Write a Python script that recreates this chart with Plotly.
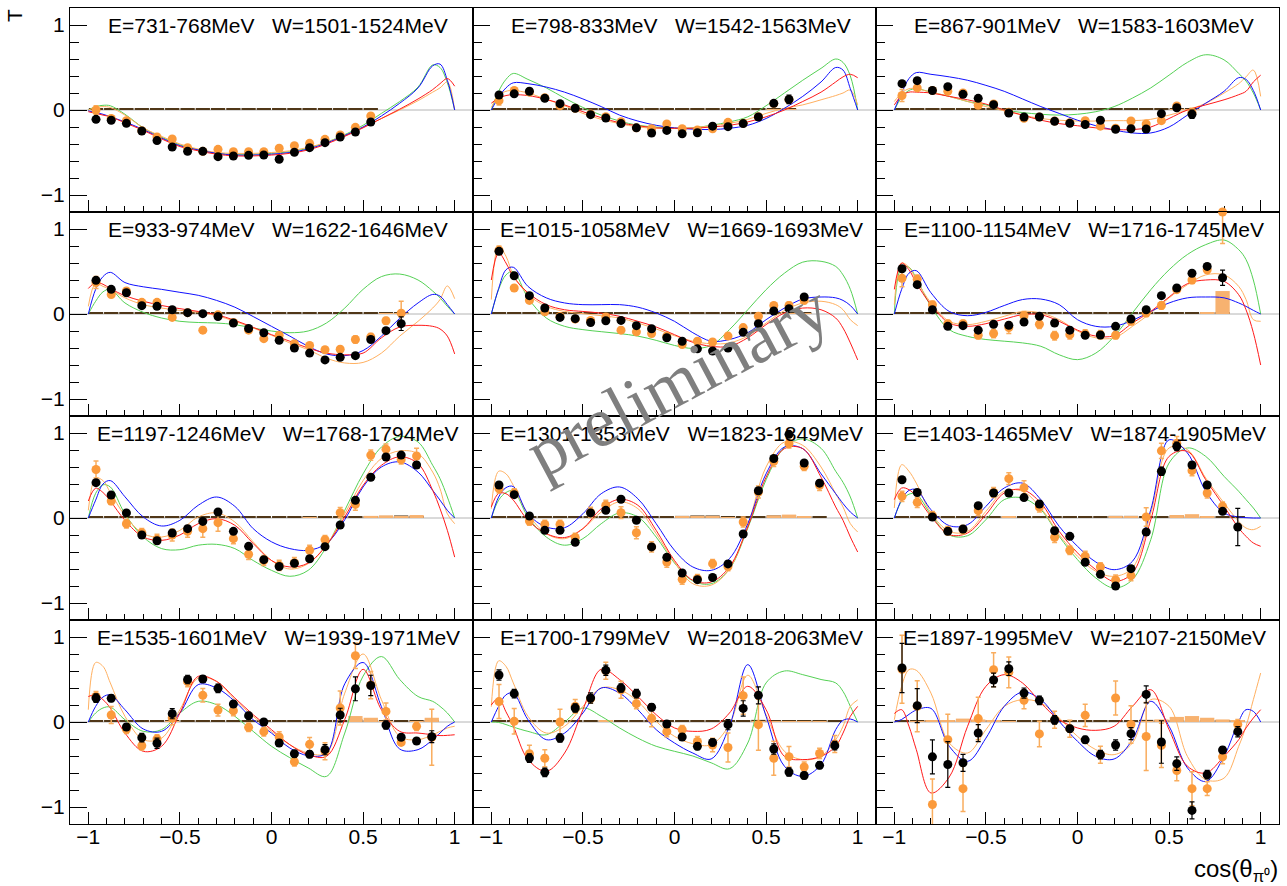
import plotly.graph_objects as go
from plotly.subplots import make_subplots

# ---------------- data ----------------
COS_BINS = [-0.958, -0.875, -0.792, -0.708, -0.625, -0.542, -0.458, -0.375, -0.292, -0.208, -0.125, -0.042,
            0.042, 0.125, 0.208, 0.292, 0.375, 0.458, 0.542, 0.625, 0.708, 0.792, 0.875, 0.958]
CURVE_X = [-1, -0.96, -0.92, -0.88, -0.8, -0.7, -0.6, -0.5, -0.4, -0.3, -0.2, -0.1, 0,
           0.1, 0.2, 0.3, 0.4, 0.5, 0.6, 0.7, 0.8, 0.88, 0.92, 0.96, 1]

E_RANGES = ["731-768", "798-833", "867-901", "933-974", "1015-1058", "1100-1154",
            "1197-1246", "1301-1353", "1403-1465", "1535-1601", "1700-1799", "1897-1995"]
W_RANGES = ["1501-1524", "1542-1563", "1583-1603", "1622-1646", "1669-1693", "1716-1745",
            "1768-1794", "1823-1849", "1874-1905", "1939-1971", "2018-2063", "2107-2150"]

BLACK_T = [
    [-0.11, -0.12, -0.157, -0.247, -0.36, -0.435, -0.486, -0.486, -0.549, -0.541, -0.533, -0.53, -0.58, -0.498, -0.443, -0.384, -0.318, -0.259, -0.141],
    [0.176, 0.19, 0.22, 0.137, 0.075, 0.02, -0.055, -0.094, -0.16, -0.21, -0.27, -0.24, -0.28, -0.267, -0.19, -0.196, -0.16, -0.082, 0.078, 0.125],
    [0.31, 0.345, 0.23, 0.275, 0.184, 0.137, 0.063, -0.035, -0.082, -0.082, -0.133, -0.157, -0.17, -0.12, -0.227, -0.22, -0.224, -0.043, 0.027, -0.05],
    [0.396, 0.29, 0.25, 0.098, 0.09, 0.05, 0.016, 0.004, -0.03, -0.106, -0.17, -0.22, -0.31, -0.4, -0.46, -0.54, -0.51, -0.49, -0.3, -0.196, -0.114],
    [0.737, 0.45, 0.216, 0.07, -0.04, -0.055, -0.1, -0.08, -0.075, -0.137, -0.173, -0.28, -0.32, -0.41, -0.435, -0.4, -0.216, -0.114, 0.035, 0.063, 0.2],
    [0.533, 0.345, 0.05, -0.145, -0.137, -0.19, -0.12, -0.133, -0.094, -0.027, -0.106, -0.19, -0.25, -0.247, -0.145, -0.059, 0.05, 0.216, 0.306, 0.48, 0.56, 0.427],
    [0.416, 0.27, 0.06, -0.2, -0.267, -0.176, -0.125, -0.04, 0.07, -0.157, -0.333, -0.49, -0.57, -0.533, -0.48, -0.337, -0.082, 0.208, 0.48, 0.718, 0.74, 0.624],
    [0.388, 0.275, 0.024, -0.145, -0.145, -0.286, 0.06, 0.09, 0.22, -0.027, -0.34, -0.463, -0.647, -0.725, -0.7, -0.54, -0.188, 0.32, 0.7, 0.984, 0.647, 0.41],
    [0.45, 0.3, 0.012, -0.157, -0.13, 0.145, 0.294, 0.294, 0.24, 0.165, -0.15, -0.216, -0.52, -0.663, -0.8, -0.596, -0.165, 0.55, 0.843, 0.624, 0.388, 0.078, -0.106],
    [0.282, 0.278, -0.059, -0.184, -0.25, 0.098, 0.5, 0.506, 0.396, 0.212, 0.075, 0.0, -0.247, -0.373, -0.38, -0.325, 0.082, 0.39, 0.43, -0.035, -0.18, -0.224, -0.173],
    [0.553, 0.333, -0.424, -0.592, -0.188, 0.165, 0.282, 0.608, 0.4, 0.333, 0.173, -0.024, -0.176, -0.286, -0.24, -0.031, 0.16, 0.314, -0.318, -0.588, -0.63, -0.51, -0.278],
    [0.635, 0.192, -0.41, -0.5, -0.48, -0.13, 0.494, 0.627, 0.34, 0.255, 0.024, -0.078, -0.21, -0.384, -0.27, -0.137, 0.325, -0.235, -0.49, -1.04, -0.62, -0.33, -0.114],
]
BLACK_ERR = [
    [0.02, 0.02, 0.02, 0.02, 0.02, 0.02, 0.02, 0.02, 0.02, 0.02, 0.02, 0.02, 0.02, 0.02, 0.02, 0.02, 0.02, 0.02, 0.02],
    [0.02, 0.02, 0.02, 0.02, 0.02, 0.02, 0.02, 0.02, 0.02, 0.02, 0.02, 0.02, 0.02, 0.02, 0.02, 0.02, 0.02, 0.02, 0.03, 0.05],
    [0.03, 0.03, 0.02, 0.02, 0.02, 0.02, 0.02, 0.02, 0.02, 0.02, 0.02, 0.02, 0.02, 0.02, 0.02, 0.02, 0.02, 0.03, 0.03, 0.05],
    [0.03, 0.02, 0.02, 0.02, 0.02, 0.02, 0.02, 0.02, 0.02, 0.02, 0.02, 0.02, 0.02, 0.02, 0.02, 0.02, 0.02, 0.02, 0.03, 0.03, 0.08],
    [0.02, 0.02, 0.02, 0.02, 0.02, 0.02, 0.02, 0.02, 0.02, 0.02, 0.02, 0.02, 0.02, 0.02, 0.02, 0.02, 0.02, 0.02, 0.02, 0.03, 0.03],
    [0.03, 0.03, 0.02, 0.02, 0.02, 0.02, 0.02, 0.02, 0.02, 0.02, 0.02, 0.02, 0.02, 0.02, 0.02, 0.02, 0.02, 0.02, 0.03, 0.03, 0.03, 0.09],
    [0.03, 0.03, 0.03, 0.03, 0.03, 0.03, 0.03, 0.03, 0.03, 0.03, 0.03, 0.03, 0.03, 0.03, 0.03, 0.03, 0.03, 0.03, 0.03, 0.03, 0.03, 0.04],
    [0.03, 0.03, 0.03, 0.03, 0.03, 0.03, 0.03, 0.03, 0.03, 0.03, 0.03, 0.03, 0.03, 0.03, 0.03, 0.03, 0.03, 0.03, 0.03, 0.03, 0.03, 0.03],
    [0.03, 0.03, 0.03, 0.03, 0.03, 0.03, 0.03, 0.03, 0.03, 0.03, 0.03, 0.03, 0.03, 0.03, 0.03, 0.03, 0.03, 0.05, 0.05, 0.03, 0.03, 0.03, 0.22],
    [0.05, 0.04, 0.04, 0.05, 0.06, 0.06, 0.05, 0.04, 0.05, 0.04, 0.04, 0.03, 0.04, 0.04, 0.04, 0.06, 0.08, 0.14, 0.12, 0.05, 0.03, 0.03, 0.07],
    [0.06, 0.05, 0.05, 0.05, 0.05, 0.05, 0.06, 0.06, 0.05, 0.05, 0.04, 0.04, 0.04, 0.04, 0.04, 0.06, 0.09, 0.1, 0.06, 0.05, 0.04, 0.04, 0.05],
    [0.29, 0.2, 0.2, 0.27, 0.1, 0.1, 0.08, 0.08, 0.06, 0.05, 0.05, 0.04, 0.04, 0.05, 0.06, 0.07, 0.1, 0.25, 0.08, 0.1, 0.05, 0.04, 0.06],
]
ORANGE_T = [
    [0.0, -0.10, -0.125, -0.243, -0.318, -0.341, -0.443, -0.486, -0.463, -0.49, -0.49, -0.49, -0.45, -0.42, -0.392, -0.345, -0.294, -0.204, -0.07],
    [0.11, 0.23, 0.21, 0.145, 0.05, 0.02, -0.047, -0.08, -0.137, -0.21, -0.22, -0.165, -0.22, -0.235, -0.22, -0.145, -0.157, -0.078, 0.075, 0.12],
    [0.17, 0.26, 0.23, 0.22, 0.2, 0.055, 0.07, -0.027, -0.098, -0.082, -0.13, -0.15, -0.125, -0.19, -0.215, -0.13, -0.165, -0.125, 0.047, -0.03],
    [0.37, 0.23, 0.27, 0.137, 0.137, -0.04, 0.016, -0.19, -0.01, -0.1, -0.19, -0.29, -0.25, -0.35, -0.37, -0.42, -0.415, -0.3, -0.27, -0.08, 0.01],
    [0.75, 0.306, 0.16, 0.027, -0.03, -0.06, -0.075, -0.035, -0.19, -0.21, -0.23, -0.26, -0.36, -0.32, -0.33, -0.26, -0.16, -0.027, 0.1, 0.1, 0.16],
    [0.42, 0.41, 0.11, -0.114, -0.114, -0.25, -0.23, -0.16, -0.02, -0.12, -0.255, -0.243, -0.235, -0.243, -0.25, -0.086, 0.012, 0.1, 0.286, 0.4, 0.52, 1.2],
    [0.57, 0.2, -0.067, -0.173, -0.25, -0.2, -0.157, -0.125, -0.055, -0.243, -0.427, -0.5, -0.557, -0.525, -0.38, -0.255, 0.063, 0.16, 0.74, 0.81, 0.686, 0.73],
    [0.345, 0.294, -0.035, -0.075, -0.075, -0.23, 0.067, 0.15, 0.063, -0.173, -0.34, -0.518, -0.72, -0.714, -0.537, -0.57, -0.047, 0.306, 0.667, 0.875, 0.608, 0.384],
    [0.255, 0.184, 0.027, -0.15, -0.137, 0.086, 0.3, 0.463, 0.357, 0.13, -0.227, -0.38, -0.45, -0.576, -0.73, -0.678, 0.012, 0.79, 0.88, 0.557, 0.294, 0.137],
    [0.3, 0.082, -0.086, -0.28, -0.2, 0.047, 0.475, 0.314, 0.14, 0.133, -0.063, -0.114, -0.176, -0.467, -0.263, -0.345, 0.165, 0.78, 0.435, 0.125, -0.24, -0.051, -0.18],
    [0.24, 0.008, -0.373, -0.427, 0.0, 0.184, 0.275, 0.604, 0.38, 0.216, 0.043, -0.114, -0.09, -0.23, -0.27, -0.3, 0.31, -0.031, -0.427, -0.408, -0.53, -0.37, -0.26],
    [0.62, 0.184, -0.97, -0.208, -0.784, 0.04, 0.616, 0.584, 0.255, -0.14, 0.027, -0.078, 0.078, -0.384, 0.282, -0.03, -0.17, -0.275, -0.57, -0.784, -0.784, -0.41, -0.03],
]
ORANGE_ERR = [
    [0.05, 0.02, 0.02, 0.02, 0.02, 0.02, 0.02, 0.02, 0.02, 0.02, 0.02, 0.02, 0.02, 0.02, 0.02, 0.02, 0.02, 0.02, 0.03],
    [0.05, 0.03, 0.02, 0.02, 0.02, 0.02, 0.02, 0.02, 0.02, 0.02, 0.02, 0.02, 0.02, 0.02, 0.02, 0.02, 0.02, 0.02, 0.03, 0.04],
    [0.07, 0.03, 0.02, 0.02, 0.03, 0.02, 0.02, 0.02, 0.02, 0.02, 0.02, 0.02, 0.02, 0.02, 0.02, 0.02, 0.02, 0.02, 0.03, 0.05],
    [0.07, 0.03, 0.03, 0.03, 0.03, 0.03, 0.03, 0.03, 0.03, 0.03, 0.03, 0.03, 0.03, 0.03, 0.03, 0.03, 0.03, 0.04, 0.04, 0.04, 0.14],
    [0.05, 0.03, 0.03, 0.03, 0.03, 0.03, 0.03, 0.03, 0.03, 0.03, 0.03, 0.03, 0.03, 0.03, 0.03, 0.03, 0.03, 0.03, 0.03, 0.04, 0.04],
    [0.1, 0.05, 0.04, 0.04, 0.04, 0.04, 0.05, 0.07, 0.05, 0.05, 0.05, 0.05, 0.05, 0.05, 0.04, 0.04, 0.04, 0.04, 0.03, 0.04, 0.04, 0.37],
    [0.1, 0.04, 0.05, 0.05, 0.06, 0.07, 0.07, 0.1, 0.1, 0.06, 0.06, 0.06, 0.06, 0.06, 0.06, 0.05, 0.06, 0.07, 0.06, 0.06, 0.05, 0.09],
    [0.05, 0.05, 0.05, 0.05, 0.05, 0.05, 0.06, 0.06, 0.07, 0.07, 0.06, 0.06, 0.06, 0.05, 0.05, 0.05, 0.06, 0.07, 0.06, 0.05, 0.05, 0.06],
    [0.06, 0.06, 0.05, 0.05, 0.05, 0.06, 0.06, 0.07, 0.08, 0.06, 0.06, 0.05, 0.06, 0.05, 0.06, 0.06, 0.11, 0.09, 0.08, 0.06, 0.06, 0.05],
    [0.06, 0.1, 0.05, 0.05, 0.05, 0.08, 0.06, 0.08, 0.07, 0.06, 0.05, 0.05, 0.06, 0.05, 0.08, 0.1, 0.2, 0.15, 0.16, 0.1, 0.03, 0.05, 0.33],
    [0.2, 0.15, 0.1, 0.1, 0.15, 0.08, 0.05, 0.1, 0.1, 0.06, 0.1, 0.06, 0.05, 0.06, 0.08, 0.17, 0.22, 0.3, 0.2, 0.12, 0.06, 0.06, 0.1],
    [0.4, 0.3, 0.3, 0.3, 0.27, 0.25, 0.2, 0.18, 0.1, 0.15, 0.1, 0.1, 0.13, 0.1, 0.2, 0.22, 0.4, 0.26, 0.12, 0.2, 0.08, 0.08, 0.06],
]
# systematic uncertainties (bar heights from 0)
BLACK_SYS = [
    [0.02, 0.02, 0.02, 0.02, 0.02, 0.02, 0.02, 0.02, 0.02, 0.02, 0.02, 0.02, 0.02, 0.02, 0.02, 0.02, 0.02, 0.02, 0.02],
    [0.02, 0.02, 0.02, 0.02, 0.02, 0.02, 0.02, 0.02, 0.02, 0.02, 0.02, 0.02, 0.02, 0.02, 0.02, 0.02, 0.02, 0.02, 0.02, 0.02],
    [0.02, 0.02, 0.02, 0.02, 0.02, 0.02, 0.02, 0.02, 0.02, 0.02, 0.02, 0.02, 0.02, 0.02, 0.02, 0.02, 0.02, 0.02, 0.02, 0.02],
    [0.02, 0.02, 0.02, 0.02, 0.02, 0.02, 0.02, 0.02, 0.02, 0.02, 0.02, 0.02, 0.02, 0.02, 0.02, 0.02, 0.02, 0.02, 0.02, 0.02, 0.02],
    [0.02, 0.02, 0.02, 0.02, 0.02, 0.02, 0.02, 0.02, 0.02, 0.02, 0.02, 0.02, 0.02, 0.02, 0.02, 0.02, 0.02, 0.02, 0.02, 0.02, 0.02],
    [0.02, 0.02, 0.02, 0.02, 0.02, 0.02, 0.02, 0.02, 0.02, 0.02, 0.02, 0.02, 0.02, 0.02, 0.02, 0.02, 0.02, 0.02, 0.02, 0.02, 0.02, 0.02],
    [0.02, 0.02, 0.02, 0.02, 0.02, 0.02, 0.02, 0.02, 0.02, 0.02, 0.02, 0.02, 0.02, 0.02, 0.02, 0.02, 0.02, 0.02, 0.02, 0.025, 0.03, 0.02],
    [0.02, 0.02, 0.02, 0.02, 0.02, 0.02, 0.02, 0.02, 0.02, 0.02, 0.02, 0.02, 0.025, 0.03, 0.03, 0.02, 0.02, 0.02, 0.03, 0.03, 0.02, 0.02],
    [0.02, 0.02, 0.02, 0.02, 0.02, 0.02, 0.02, 0.02, 0.02, 0.02, 0.02, 0.02, 0.02, 0.02, 0.025, 0.025, 0.02, 0.02, 0.03, 0.02, 0.02, 0.02, 0.02],
    [0.02, 0.02, 0.02, 0.02, 0.02, 0.02, 0.02, 0.02, 0.02, 0.02, 0.02, 0.02, 0.02, 0.02, 0.02, 0.02, 0.02, 0.03, 0.02, 0.02, 0.02, 0.02, 0.02],
    [0.02, 0.02, 0.02, 0.02, 0.02, 0.02, 0.02, 0.02, 0.02, 0.02, 0.02, 0.02, 0.02, 0.02, 0.02, 0.02, 0.02, 0.025, 0.02, 0.02, 0.02, 0.02, 0.02],
    [0.02, 0.02, 0.02, 0.02, 0.02, 0.02, 0.02, 0.02, 0.02, 0.02, 0.02, 0.02, 0.02, 0.02, 0.02, 0.02, 0.025, 0.02, 0.02, 0.02, 0.02, 0.02, 0.02],
]
ORANGE_SYS = [
    [0, 0, 0, 0, 0, 0, 0, 0, 0, 0, 0, 0, 0, 0, 0, 0, 0, 0, 0],
    [0, 0, 0, 0, 0, 0, 0, 0, 0, 0, 0, 0, 0, 0, 0, 0, 0, 0, 0.01, 0.01],
    [0, 0, 0, 0, 0, 0, 0, 0, 0, 0, 0, 0, 0, 0, 0, 0, 0, 0, 0.01, 0.01],
    [0, 0, 0, 0, 0, 0, 0, 0, 0, 0, 0, 0, 0, 0, 0, 0, 0, 0, 0, 0.01, 0.01],
    [0, 0, 0, 0, 0, 0, 0, 0, 0, 0, 0, 0, 0, 0, 0, 0, 0, 0, 0, 0.01, 0.01],
    [0, 0, 0, 0, 0, 0, 0, 0, 0, 0, 0, 0, 0, 0, 0, 0, 0, 0, 0, 0, 0.012, 0.27],
    [0, 0, 0, 0, 0, 0, 0, 0, 0, 0, 0, 0, 0, 0, 0.01, 0, 0, 0, 0.025, 0.03, 0.02, 0.035],
    [0, 0, 0, 0, 0, 0, 0, 0, 0, 0, 0, 0, 0.015, 0.02, 0.02, 0.01, 0, 0, 0.03, 0.04, 0.02, 0],
    [0, 0, 0, 0, 0, 0, 0, 0.015, 0, 0, 0, 0, 0, 0, 0.015, 0.015, 0, 0, 0.035, 0.045, 0.02, 0, 0],
    [0, 0, 0, 0, 0, 0.01, 0, 0, 0, 0, 0, 0, 0, 0, 0, 0, 0, 0.07, 0.05, 0.01, 0, 0.01, 0.05],
    [0, 0, 0, 0, 0, 0, 0, 0.015, 0, 0, 0, 0, 0, 0, 0, 0, 0, 0.01, 0.01, 0.01, 0.01, 0.01, 0],
    [0, 0.01, 0.02, 0.02, 0.04, 0.03, 0.02, 0.01, 0, 0, 0, 0, 0, 0, 0, 0, 0.01, 0.03, 0.06, 0.07, 0.05, 0.03, 0.02],
]

CURVE_BLUE = [
    [-0.01, -0.03, -0.05, -0.08, -0.14, -0.23, -0.33, -0.42, -0.47, -0.51, -0.53, -0.53, -0.52, -0.50, -0.46, -0.39, -0.30, -0.20, -0.07, 0.08, 0.26, 0.52, 0.54, 0.35, 0.0],
    [0, 0.15, 0.26, 0.32, 0.31, 0.27, 0.21, 0.13, 0.04, -0.06, -0.13, -0.18, -0.21, -0.225, -0.23, -0.215, -0.18, -0.10, 0.02, 0.16, 0.33, 0.50, 0.47, 0.25, 0.0],
    [0, 0.2, 0.37, 0.44, 0.42, 0.39, 0.35, 0.29, 0.22, 0.13, 0.04, -0.04, -0.12, -0.185, -0.235, -0.27, -0.27, -0.2, -0.06, 0.08, 0.22, 0.38, 0.36, 0.23, 0.0],
    [0, 0.29, 0.44, 0.49, 0.37, 0.32, 0.29, 0.255, 0.22, 0.16, 0.08, -0.03, -0.145, -0.26, -0.38, -0.47, -0.49, -0.43, -0.26, -0.05, 0.13, 0.23, 0.21, 0.11, 0.0],
    [0, 0.3, 0.52, 0.55, 0.325, 0.19, 0.13, 0.11, 0.11, 0.11, 0.08, 0.012, -0.086, -0.22, -0.32, -0.3, -0.22, -0.067, 0.07, 0.176, 0.2, 0.19, 0.16, 0.1, 0.0],
    [0, 0.29, 0.48, 0.51, 0.25, 0.03, -0.02, 0.02, 0.1, 0.17, 0.176, 0.11, -0.067, -0.145, -0.145, -0.075, 0.03, 0.13, 0.19, 0.2, 0.19, 0.13, 0.09, 0.043, 0.0],
    [0, 0.21, 0.4, 0.44, 0.25, 0.012, -0.094, -0.027, 0.15, 0.247, 0.137, -0.125, -0.28, -0.36, -0.38, -0.3, -0.02, 0.365, 0.6, 0.66, 0.54, 0.325, 0.21, 0.09, 0.0],
    [0, 0.247, 0.357, 0.37, 0.05, -0.106, -0.114, 0.05, 0.286, 0.365, 0.227, -0.067, -0.38, -0.576, -0.616, -0.478, -0.067, 0.52, 0.835, 0.816, 0.52, 0.286, 0.17, 0.07, 0.0],
    [0, 0.216, 0.325, 0.333, 0.098, -0.09, -0.078, 0.137, 0.353, 0.41, 0.216, -0.098, -0.333, -0.518, -0.608, -0.51, 0.098, 0.92, 0.765, 0.314, 0.059, 0.012, 0.004, 0.0, 0.0],
    [0, 0.184, 0.294, 0.318, 0.145, -0.082, -0.11, 0.106, 0.44, 0.4, 0.243, 0.027, -0.13, -0.306, -0.396, -0.365, 0.45, 0.7, 0.18, -0.318, -0.325, -0.208, -0.13, -0.05, 0.0],
    [0, 0.184, 0.32, 0.34, 0.027, -0.208, -0.13, 0.106, 0.4, 0.341, 0.145, -0.09, -0.247, -0.365, -0.435, -0.05, 0.675, 0.067, -0.52, -0.64, -0.5, -0.09, 0.02, 0.035, 0.0],
    [0, 0.03, 0.09, 0.14, 0.16, -0.286, -0.463, -0.19, 0.184, 0.353, 0.263, 0.008, -0.227, -0.404, -0.435, -0.208, 0.243, -0.05, -0.54, -0.7, -0.404, 0.008, 0.145, 0.125, 0.0],
]
CURVE_GREEN = [
    [0, 0.04, 0.055, 0.05, -0.05, -0.21, -0.32, -0.41, -0.47, -0.51, -0.52, -0.52, -0.51, -0.49, -0.45, -0.38, -0.29, -0.18, -0.04, 0.10, 0.27, 0.53, 0.50, 0.32, 0.0],
    [0, 0.22, 0.36, 0.43, 0.36, 0.26, 0.14, 0.03, -0.06, -0.13, -0.18, -0.20, -0.215, -0.21, -0.18, -0.14, -0.08, 0.05, 0.2, 0.35, 0.49, 0.60, 0.56, 0.40, 0.0],
    [0, 0.15, 0.23, 0.25, 0.21, 0.16, 0.1, 0.06, 0.0, -0.03, -0.05, -0.06, -0.05, -0.02, 0.04, 0.14, 0.26, 0.41, 0.56, 0.65, 0.59, 0.43, 0.34, 0.2, 0.0],
    [0, 0.15, 0.26, 0.29, 0.13, 0.02, -0.047, -0.086, -0.1, -0.106, -0.125, -0.165, -0.2, -0.22, -0.2, -0.106, 0.07, 0.29, 0.44, 0.47, 0.4, 0.27, 0.19, 0.09, 0.0],
    [0, 0.29, 0.46, 0.5, 0.19, -0.047, -0.145, -0.184, -0.208, -0.23, -0.26, -0.31, -0.37, -0.405, -0.37, -0.184, 0.05, 0.286, 0.48, 0.61, 0.62, 0.56, 0.46, 0.29, 0.0],
    [0, 0.55, 0.55, 0.42, 0.09, -0.184, -0.263, -0.3, -0.32, -0.34, -0.38, -0.48, -0.537, -0.46, -0.263, 0.012, 0.286, 0.52, 0.7, 0.816, 0.87, 0.757, 0.64, 0.4, 0.0],
    [0, 0.29, 0.39, 0.365, 0.05, -0.224, -0.36, -0.373, -0.32, -0.31, -0.36, -0.5, -0.616, -0.686, -0.616, -0.34, 0.09, 0.52, 0.835, 0.96, 0.894, 0.62, 0.463, 0.247, 0.0],
    [0, 0.21, 0.3, 0.32, 0.012, -0.224, -0.32, -0.243, -0.067, 0.06, 0.012, -0.224, -0.53, -0.74, -0.773, -0.6, -0.12, 0.45, 0.83, 0.93, 0.82, 0.55, 0.42, 0.247, 0.0],
    [0, 0.2, 0.28, 0.28, 0.04, -0.2, -0.208, -0.02, 0.216, 0.235, 0.098, -0.216, -0.49, -0.706, -0.824, -0.725, -0.255, 0.647, 0.824, 0.725, 0.49, 0.314, 0.216, 0.118, 0.0],
    [0, 0.106, 0.165, 0.176, 0.027, -0.11, -0.09, 0.106, 0.243, 0.204, 0.067, -0.11, -0.286, -0.42, -0.54, -0.64, -0.13, 0.54, 0.77, 0.5, 0.3, 0.243, 0.184, 0.106, 0.0],
    [0, -0.005, -0.03, -0.06, -0.11, -0.15, 0.0, 0.165, 0.067, -0.07, -0.19, -0.286, -0.345, -0.4, -0.48, -0.55, -0.247, 0.46, 0.6, 0.557, 0.5, 0.46, 0.36, 0.184, 0.0],
    None,
]
CURVE_RED = [
    [-0.02, -0.04, -0.06, -0.08, -0.15, -0.24, -0.34, -0.43, -0.48, -0.52, -0.54, -0.54, -0.53, -0.51, -0.47, -0.40, -0.31, -0.21, -0.10, 0.01, 0.13, 0.24, 0.31, 0.37, 0.28],
    [0.08, 0.14, 0.17, 0.18, 0.17, 0.125, 0.06, -0.02, -0.09, -0.15, -0.185, -0.21, -0.215, -0.215, -0.20, -0.18, -0.14, -0.08, 0.0, 0.10, 0.21, 0.33, 0.39, 0.42, 0.38],
    [0.06, 0.17, 0.21, 0.21, 0.2, 0.16, 0.12, 0.07, 0.0, -0.06, -0.12, -0.16, -0.185, -0.21, -0.23, -0.23, -0.2, -0.1, 0.0, 0.06, 0.12, 0.18, 0.22, 0.33, 0.41],
    [0.3, 0.37, 0.35, 0.3, 0.215, 0.15, 0.1, 0.063, 0.03, -0.008, -0.075, -0.157, -0.243, -0.32, -0.4, -0.46, -0.48, -0.46, -0.28, -0.153, -0.133, -0.145, -0.176, -0.26, -0.47],
    [0.4, 0.72, 0.6, 0.44, 0.25, 0.11, 0.05, 0.03, 0.01, -0.027, -0.086, -0.153, -0.243, -0.333, -0.38, -0.38, -0.28, -0.125, 0.012, 0.07, 0.05, -0.047, -0.165, -0.34, -0.54],
    [0.29, 0.6, 0.52, 0.365, 0.11, -0.106, -0.145, -0.114, -0.06, -0.008, -0.008, -0.086, -0.19, -0.26, -0.255, -0.106, 0.03, 0.2, 0.357, 0.4, 0.384, 0.227, 0.05, -0.22, -0.6],
    [0.2, 0.35, 0.3, 0.2, -0.027, -0.224, -0.263, -0.2, -0.067, -0.008, -0.086, -0.3, -0.5, -0.576, -0.53, -0.32, 0.012, 0.384, 0.62, 0.72, 0.64, 0.325, 0.11, -0.145, -0.46],
    [0.13, 0.29, 0.286, 0.21, -0.027, -0.184, -0.23, -0.125, 0.11, 0.22, 0.15, -0.145, -0.5, -0.733, -0.753, -0.576, -0.106, 0.48, 0.816, 0.816, 0.48, 0.13, -0.027, -0.224, -0.4],
    [0.216, 0.353, 0.333, 0.255, 0.02, -0.196, -0.176, 0.04, 0.294, 0.333, 0.176, -0.157, -0.41, -0.608, -0.745, -0.647, -0.02, 0.725, 0.784, 0.45, 0.137, -0.118, -0.216, -0.294, -0.333],
    [0.3, 0.32, 0.263, 0.165, -0.13, -0.345, -0.286, 0.106, 0.537, 0.478, 0.282, 0.086, -0.09, -0.267, -0.384, -0.404, 0.03, 0.62, 0.145, -0.11, -0.13, -0.15, -0.16, -0.157, -0.15],
    [0.2, 0.28, 0.12, -0.05, -0.44, -0.58, -0.365, 0.145, 0.62, 0.5, 0.3, 0.086, -0.07, -0.11, -0.082, 0.106, 0.42, 0.145, -0.404, -0.443, -0.404, -0.286, -0.13, 0.067, 0.184],
    [0.1, 0.145, -0.05, -0.325, -0.835, -0.647, -0.05, 0.42, 0.557, 0.459, 0.224, 0.027, -0.07, -0.098, -0.05, 0.184, 0.38, -0.09, -0.52, -0.6, -0.404, -0.208, -0.07, 0.047, 0.145],
]
CURVE_ORANGE = [
    [0, 0.03, 0.04, 0.03, -0.06, -0.21, -0.31, -0.40, -0.46, -0.50, -0.51, -0.51, -0.50, -0.48, -0.44, -0.38, -0.30, -0.20, -0.10, 0.0, 0.11, 0.21, 0.26, 0.33, 0.0],
    [0.03, 0.17, 0.22, 0.23, 0.20, 0.125, 0.05, -0.04, -0.11, -0.16, -0.2, -0.215, -0.215, -0.21, -0.185, -0.157, -0.11, -0.04, 0.02, 0.06, 0.12, 0.17, 0.2, 0.235, 0.06],
    [0.1, 0.2, 0.25, 0.25, 0.21, 0.16, 0.1, 0.04, -0.01, -0.06, -0.1, -0.12, -0.13, -0.13, -0.125, -0.125, -0.11, -0.06, 0.0, 0.08, 0.2, 0.31, 0.39, 0.47, 0.16],
    [0.09, 0.36, 0.325, 0.29, 0.19, 0.11, 0.07, 0.043, 0.02, -0.02, -0.086, -0.165, -0.25, -0.34, -0.42, -0.52, -0.576, -0.57, -0.46, -0.26, -0.086, 0.07, 0.17, 0.33, 0.18],
    [0.17, 0.8, 0.68, 0.46, 0.23, 0.09, 0.03, 0.004, -0.02, -0.047, -0.106, -0.176, -0.255, -0.32, -0.35, -0.34, -0.26, -0.106, 0.04, 0.13, 0.15, 0.11, 0.05, -0.067, -0.137],
    [0.11, 0.6, 0.55, 0.4, 0.13, -0.086, -0.125, -0.086, -0.027, 0.03, 0.012, -0.067, -0.2, -0.28, -0.28, -0.145, 0.012, 0.19, 0.345, 0.46, 0.46, 0.325, 0.17, -0.067, -0.086],
    [0.09, 0.47, 0.44, 0.3, 0.03, -0.184, -0.224, -0.145, 0.012, 0.06, -0.047, -0.28, -0.5, -0.6, -0.537, -0.32, 0.05, 0.44, 0.7, 0.79, 0.757, 0.54, 0.345, 0.05, -0.067],
    [0.11, 0.55, 0.52, 0.384, 0.05, -0.184, -0.243, -0.125, 0.07, 0.19, 0.11, -0.184, -0.52, -0.773, -0.79, -0.6, -0.086, 0.6, 0.894, 0.855, 0.6, 0.286, 0.13, -0.067, -0.165],
    [0.118, 0.627, 0.55, 0.41, 0.059, -0.157, -0.157, 0.078, 0.314, 0.314, 0.118, -0.196, -0.45, -0.627, -0.686, -0.588, 0.059, 0.824, 0.804, 0.47, 0.176, -0.04, -0.118, -0.137, -0.098],
    [0.145, 0.7, 0.655, 0.46, 0.067, -0.208, -0.19, 0.145, 0.518, 0.478, 0.263, 0.067, -0.11, -0.267, -0.365, -0.365, 0.34, 0.8, 0.263, -0.17, -0.208, -0.15, -0.11, -0.07, -0.05],
    [0.18, 0.72, 0.655, 0.46, 0.067, -0.13, -0.05, 0.184, 0.4, 0.38, 0.243, 0.008, -0.169, -0.255, -0.267, -0.03, 0.55, 0.086, -0.345, -0.443, -0.404, -0.208, -0.05, 0.184, 0.26],
    [0.027, 0.42, 0.616, 0.608, 0.34, -0.247, -0.365, -0.09, 0.184, 0.263, 0.224, 0.047, -0.169, -0.325, -0.384, -0.247, 0.263, 0.184, -0.404, -0.678, -0.66, -0.286, -0.05, 0.263, 0.576],
]

# ---------------- style ----------------
FONT = "Liberation Sans, Arial, Helvetica, sans-serif"
C_BLACK = "#000000"
C_ORANGE = "#fb9a3b"
C_ORANGE_ERR = "#f9ad5e"
C_BLUE = "#1010ff"
C_GREEN = "#55d155"
C_RED = "#ff1a1a"
C_ORANGE_LINE = "#ffb060"
C_SYS_B = "#503718"
C_SYS_O = "#f7b270"

W, H = 1287, 886
ML, MR, MT, MB = 70, 8, 8, 62

fig = make_subplots(rows=4, cols=3, horizontal_spacing=0, vertical_spacing=0)

for k in range(12):
    r, c = k // 3 + 1, k % 3 + 1
    n_b = len(BLACK_T[k])
    n_o = len(ORANGE_T[k])
    # systematic bars
    fig.add_trace(go.Bar(x=COS_BINS[:len(BLACK_SYS[k])], y=BLACK_SYS[k], width=0.078,
                         marker=dict(color=C_SYS_B, line=dict(width=0)), showlegend=False,
                         hoverinfo="skip"), row=r, col=c)
    fig.add_trace(go.Bar(x=COS_BINS[:len(ORANGE_SYS[k])], y=ORANGE_SYS[k], width=0.078,
                         marker=dict(color=C_SYS_O, line=dict(width=0)), showlegend=False,
                         hoverinfo="skip"), row=r, col=c)
    # model curves
    for curves, col in ((CURVE_GREEN, C_GREEN), (CURVE_ORANGE, C_ORANGE_LINE),
                        (CURVE_BLUE, C_BLUE), (CURVE_RED, C_RED)):
        if curves[k] is None:
            continue
        fig.add_trace(go.Scatter(x=CURVE_X, y=curves[k], mode="lines",
                                 line=dict(color=col, width=1, shape="spline", smoothing=1.0),
                                 showlegend=False, hoverinfo="skip"), row=r, col=c)
    # data
    fig.add_trace(go.Scatter(x=COS_BINS[:n_o], y=ORANGE_T[k], mode="markers",
                             marker=dict(color=C_ORANGE, size=9),
                             error_y=dict(type="data", array=ORANGE_ERR[k], color=C_ORANGE_ERR,
                                          thickness=1.5, width=2.5),
                             cliponaxis=(k != 5), showlegend=False), row=r, col=c)
    fig.add_trace(go.Scatter(x=COS_BINS[:n_b], y=BLACK_T[k], mode="markers",
                             marker=dict(color=C_BLACK, size=9),
                             error_y=dict(type="data", array=BLACK_ERR[k], color=C_BLACK,
                                          thickness=1.2, width=2.5),
                             showlegend=False), row=r, col=c)

    xname = "x" if k == 0 else f"x{k + 1}"
    yname = "y" if k == 0 else f"y{k + 1}"
    # zero reference line
    fig.add_shape(type="line", xref=f"{xname} domain", yref=yname, x0=0, x1=1, y0=0, y1=0,
                  line=dict(color="#b4b4b4", width=1), layer="below")
    # panel title
    fig.add_annotation(xref=xname, yref=yname, x=0.038, y=1.0, xanchor="center", yanchor="middle",
                       text=f"E={E_RANGES[k]}MeV\u00a0\u00a0\u00a0W={W_RANGES[k]}MeV",
                       showarrow=False, font=dict(family=FONT, size=21, color="black"))

    fig.update_xaxes(range=[-1.1, 1.1], tick0=0, dtick=0.5, ticks="inside", ticklen=12,
                     tickwidth=1, tickcolor="black",
                     minor=dict(dtick=0.1, tick0=0, ticks="inside", ticklen=6, tickcolor="black"),
                     showline=True, linecolor="black", linewidth=1, mirror=True,
                     showgrid=False, zeroline=False, showticklabels=(r == 4),
                     tickfont=dict(family=FONT, size=21, color="black"),
                     ticklabelstandoff=-6, row=r, col=c)
    fig.update_yaxes(range=[-1.2, 1.2], tick0=0, dtick=1, ticks="inside", ticklen=17,
                     tickwidth=1, tickcolor="black",
                     minor=dict(dtick=0.2, tick0=0, ticks="inside", ticklen=9, tickcolor="black"),
                     showline=True, linecolor="black", linewidth=1, mirror=True,
                     showgrid=False, zeroline=False, showticklabels=(c == 1),
                     tickfont=dict(family=FONT, size=21, color="black"),
                     row=r, col=c)

pw = W - ML - MR
ph = H - MT - MB
# watermark
fig.add_annotation(xref="paper", yref="paper", x=(678 - ML) / pw, y=(H - MB - 380) / ph,
                   text="preliminary", showarrow=False, textangle=-28,
                   font=dict(family="Liberation Serif, Times New Roman, serif", size=71, color="#7f7f7f"))
# axis titles
fig.add_annotation(xref="paper", yref="paper", x=(15 - ML) / pw, y=(H - MB - 16) / ph,
                   text="T", showarrow=False, textangle=-90, xanchor="center", yanchor="middle",
                   font=dict(family=FONT, size=21, color="black"))
fig.add_annotation(xref="paper", yref="paper", x=(1280 - ML) / pw, y=(H - MB - 870) / ph,
                   text="cos(\u03b8<sub>\u03c0\u2070</sub>)", showarrow=False,
                   xanchor="right", yanchor="middle",
                   font=dict(family=FONT, size=24, color="black"))

fig.update_layout(width=W, height=H, margin=dict(l=ML, r=MR, t=MT, b=MB),
                  paper_bgcolor="white", plot_bgcolor="white", barmode="overlay",
                  showlegend=False)

fig.write_html("out.html")
